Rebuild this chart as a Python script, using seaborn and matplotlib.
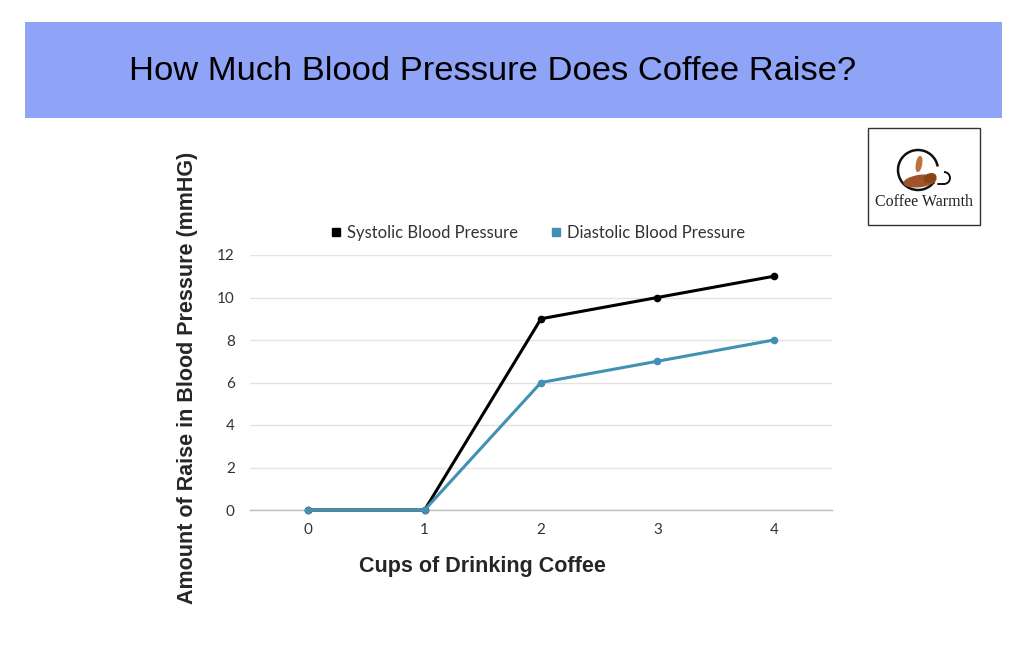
import matplotlib
matplotlib.use("Agg")
import matplotlib.pyplot as plt
import matplotlib.patches as mpatches
import seaborn as sns
import pandas as pd

cups = [0, 1, 2, 3, 4]
systolic = [0, 0, 9, 10, 11]
diastolic = [0, 0, 6, 7, 8]
series_names = ["Systolic Blood Pressure", "Diastolic Blood Pressure"]
y_ticks = [0, 2, 4, 6, 8, 10, 12]

df = pd.DataFrame({
    "cups": cups * 2,
    "value": systolic + diastolic,
    "series": [series_names[0]] * len(cups) + [series_names[1]] * len(cups),
})

sns.set_theme(style="white")
plt.rcParams["font.family"] = ["Lato", "DejaVu Sans"]

fig = plt.figure(figsize=(10.24, 6.55), dpi=100)
fig.patch.set_facecolor("white")

# Title banner
banner = mpatches.Rectangle((25 / 1024, 1 - 118 / 655), (1002 - 25) / 1024, 96 / 655,
                            transform=fig.transFigure, facecolor="#8FA3F7",
                            edgecolor="none", zorder=0)
fig.patches.append(banner)
fig.text(493 / 1024, 1 - 71 / 655, "How Much Blood Pressure Does Coffee Raise?",
         ha="center", va="center", fontsize=24.8, color="black",
         family=["Liberation Sans", "DejaVu Sans"])

ax = fig.add_axes([250 / 1024, 1 - 510 / 655, 582 / 1024, 255 / 655])
palette = {series_names[0]: "#000000", series_names[1]: "#4290B3"}
sns.lineplot(data=df, x="cups", y="value", hue="series", palette=palette,
             marker="o", markersize=5.5, markeredgewidth=0, linewidth=2.2,
             ax=ax, legend=False, clip_on=False, zorder=3)

ax.set_xlim(-0.5, 4.5)
ax.set_ylim(0, 12)
ax.set_xticks(cups)
ax.set_yticks(y_ticks)
ax.tick_params(axis="both", length=0, labelsize=11, colors="#333333", pad=9)
ax.tick_params(axis="y", pad=11)
ax.grid(axis="y", color="#E3E3E3", linewidth=1)
ax.grid(axis="x", visible=False)
for s in ["top", "right", "left"]:
    ax.spines[s].set_visible(False)
ax.spines["bottom"].set_color("#BDBDBD")
ax.spines["bottom"].set_linewidth(1)

ax.set_xlabel("Cups of Drinking Coffee", fontsize=15.5, fontweight="bold",
              family=["Liberation Sans", "DejaVu Sans"])
ax.set_ylabel("Amount of Raise in Blood Pressure (mmHG)", fontsize=15.5,
              fontweight="bold", family=["Liberation Sans", "DejaVu Sans"])
ax.yaxis.set_label_coords(-0.089, 0.518)
ax.xaxis.set_label_coords(0.40, -0.18)

handles = [plt.Line2D([], [], marker="s", linestyle="none", markersize=6,
                      color=palette[n], label=n) for n in series_names]
leg = ax.legend(handles=handles, loc="center", bbox_to_anchor=(0.493, 1.085),
                ncol=2, frameon=False, fontsize=12, handletextpad=0.25,
                columnspacing=1.9, handlelength=0.8)
for t in leg.get_texts():
    t.set_color("#333333")

# Logo
lax = fig.add_axes([868 / 1024, 1 - 225 / 655, 112 / 1024, 97 / 655])
lax.set_xlim(0, 112)
lax.set_ylim(97, 0)
lax.axis("off")
lax.add_patch(mpatches.Rectangle((0, 0), 112, 97, facecolor="white",
                                 edgecolor="#333333", linewidth=1, zorder=0,
                                 clip_on=False))
lax.add_patch(mpatches.Arc((50, 42), 40, 40, theta1=35, theta2=350, color="#111111", lw=1.8))
lax.add_patch(mpatches.Arc((76, 50), 12, 12, theta1=-90, theta2=90, color="#111111", lw=1.4))
lax.plot([70, 76], [56, 56], color="#111111", lw=1.4)
lax.add_patch(mpatches.Ellipse((52, 53), 32, 11, angle=-8, color="#A0522D"))
lax.add_patch(mpatches.Ellipse((62, 50), 12, 8, angle=-20, color="#8B4513"))
lax.add_patch(mpatches.Ellipse((51, 36), 5, 15, angle=10, color="#C0703A"))
lax.text(56, 74, "Coffee Warmth", ha="center", va="center", fontsize=11.5,
         family=["Liberation Serif", "DejaVu Serif"], color="#222222")

fig.savefig("out.png", dpi=100, facecolor="white")
